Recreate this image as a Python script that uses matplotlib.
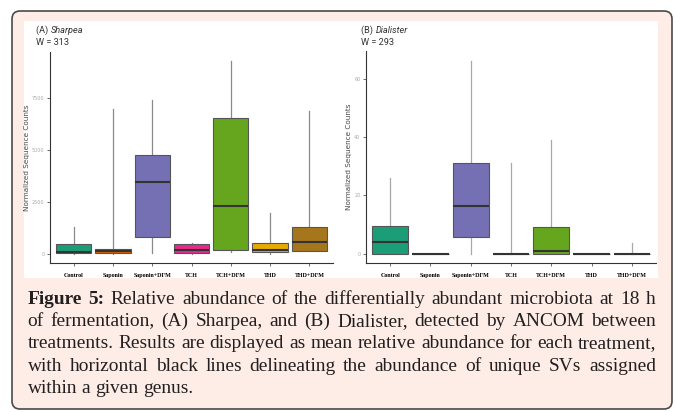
import matplotlib
matplotlib.use("Agg")
import matplotlib.pyplot as plt
from matplotlib.patches import FancyBboxPatch, Rectangle

# treatments on the x axis
treatments = ["Control", "Saponin", "Saponin+DFM", "TCH", "TCH+DFM", "THD", "THD+DFM"]
box_colours = ["#1B9E77", "#D95F02", "#7570B3", "#E7298A", "#66A61E", "#E6AB02", "#A6761D"]

# (A) Sharpea
sharpea_whislo = [0, 0, 50, 0, 100, 0, 130]
sharpea_q1 = [20, 30, 820, 30, 180, 70, 130]
sharpea_med = [70, 130, 3460, 180, 2300, 160, 550]
sharpea_q3 = [470, 230, 4760, 480, 6530, 515, 1300]
sharpea_whishi = [1300, 6970, 7420, 515, 9270, 1960, 6870]

# (B) Dialister
dialister_whislo = [0, 0, 0, 0, 0, 0, 0]
dialister_q1 = [0, 0, 5.6, 0, 0, 0, 0]
dialister_med = [3.9, 0, 16.5, 0, 0.9, 0, 0]
dialister_q3 = [9.6, 0, 31.0, 0, 9.2, 0, 0]
dialister_whishi = [25.9, 0, 66.2, 31.0, 39.0, 0, 3.8]

sharpea_ticks = [0, 2500, 5000, 7500]
dialister_ticks = [0, 20, 40, 60]

caption_lines = [
    "Figure 5: Relative abundance of the differentially abundant microbiota at 18 h",
    "of fermentation, (A) Sharpea, and (B) Dialister, detected by ANCOM between",
    "treatments. Results are displayed as mean relative abundance for each treatment,",
    "with horizontal black lines delineating the abundance of unique SVs assigned",
    "within a given genus.",
]

W, H = 675, 412
fig = plt.figure(figsize=(W / 100, H / 100), dpi=100)
fig.patch.set_facecolor("white")

# page-like overlay in pixel coordinates
bg = fig.add_axes([0, 0, 1, 1])
bg.set_xlim(0, W)
bg.set_ylim(H, 0)
bg.axis("off")
bg.add_patch(FancyBboxPatch((12, 11), 660, 398, boxstyle="round,pad=0,rounding_size=8",
                            facecolor="#fdede6", edgecolor="#4a4a4a", linewidth=1.2))
bg.add_patch(Rectangle((24, 21), 634, 257, facecolor="white", edgecolor="none"))
renderer = fig.canvas.get_renderer()


def px_axes(x0, y0, x1, y1):
    return fig.add_axes([x0 / W, 1 - y1 / H, (x1 - x0) / W, (y1 - y0) / H])


def text_width(s, **kw):
    t = bg.text(0, 0, s, **kw)
    w = t.get_window_extent(renderer).width
    t.remove()
    return w


def draw_panel(ax, lo, q1, med, q3, hi, ticks, whisker_colour, label_x):
    stats = []
    for i in range(len(treatments)):
        stats.append(dict(whislo=lo[i], q1=q1[i], med=med[i], q3=q3[i],
                          whishi=hi[i], fliers=[]))
    parts = ax.bxp(stats, positions=range(1, 8), widths=0.9, patch_artist=True,
                   showcaps=False,
                   boxprops=dict(edgecolor="#555555", linewidth=0.8),
                   medianprops=dict(color="#333333", linewidth=1.5),
                   whiskerprops=dict(color=whisker_colour, linewidth=0.9))
    for box, c in zip(parts["boxes"], box_colours):
        box.set_facecolor(c)
        box.set_zorder(3)
    for m in parts["medians"]:
        m.set_zorder(4)
    rng = max(hi) - min(lo)
    ax.set_ylim(min(lo) - 0.05 * rng, max(hi) + 0.05 * rng)
    ax.set_xlim(0.4, 7.6)
    ax.set_yticks(ticks)
    ax.set_yticklabels([str(t) for t in ticks], fontsize=3.5, color="#aaaaaa")
    ax.set_xticks(range(1, 8))
    ax.set_xticklabels(treatments, fontsize=4.3, fontweight="bold",
                       family="Liberation Serif", color="black")
    for s in ["top", "right"]:
        ax.spines[s].set_visible(False)
    for s in ["left", "bottom"]:
        ax.spines[s].set_color("#333333")
        ax.spines[s].set_linewidth(0.8)
    ax.tick_params(length=2, width=0.6, color="#555555", pad=2)
    ax.tick_params(axis="x", pad=5)
    ax.set_ylabel("Normalized Sequence Counts", fontsize=5.2, color="#444444")
    ax.yaxis.set_label_coords(label_x, 0.5)
    ax.set_facecolor("white")


ax_a = px_axes(50, 51.8, 333, 263.3)
draw_panel(ax_a, sharpea_whislo, sharpea_q1, sharpea_med, sharpea_q3, sharpea_whishi,
           sharpea_ticks, "#8a8a8a", -0.071)
ax_b = px_axes(366, 51.1, 656, 263.3)
draw_panel(ax_b, dialister_whislo, dialister_q1, dialister_med, dialister_q3,
           dialister_whishi, dialister_ticks, "#a8a8a8", -0.05)

title_font = dict(fontsize=6.6, color="#333333",
                  family=["Liberation Sans Narrow", "Roboto", "DejaVu Sans"])
for x0, tag, genus, wval in [(36, "(A) ", "Sharpea", "W = 313"),
                             (361, "(B) ", "Dialister", "W = 293")]:
    bg.text(x0, 30, tag, va="center", ha="left", **title_font)
    bg.text(x0 + text_width(tag, **title_font), 30, genus, va="center", ha="left",
            style="italic", **title_font)
    bg.text(x0, 42, wval, va="center", ha="left", **title_font)

# justified caption, word by word
left, right = 27.5, 656
baseline0, line_gap = 304, 22.2
cap_font = dict(family="Liberation Serif", color="#231f20")
# pick a size so the tightest line just fits
base = text_width(caption_lines[2], fontsize=12, **cap_font)
cap_size = 12 * (right - left - 4) / base
cap_font["fontsize"] = cap_size
space = text_width("a a", **cap_font) - 2 * text_width("a", **cap_font)
for li, line in enumerate(caption_lines):
    words = line.split(" ")
    y = baseline0 + li * line_gap
    items = []
    for wi, w in enumerate(words):
        bold = li == 0 and wi < 2
        t = bg.text(0, y, w, va="baseline", ha="left",
                    fontweight="bold" if bold else "normal", **cap_font)
        items.append(t)
    widths = [t.get_window_extent(renderer).width for t in items]
    if li < len(caption_lines) - 1:
        gap = (right - left - sum(widths)) / (len(words) - 1)
    else:
        gap = space
    x = left
    for t, wd in zip(items, widths):
        t.set_x(x)
        x += wd + gap

fig.savefig("out.png", dpi=100, facecolor="white")
